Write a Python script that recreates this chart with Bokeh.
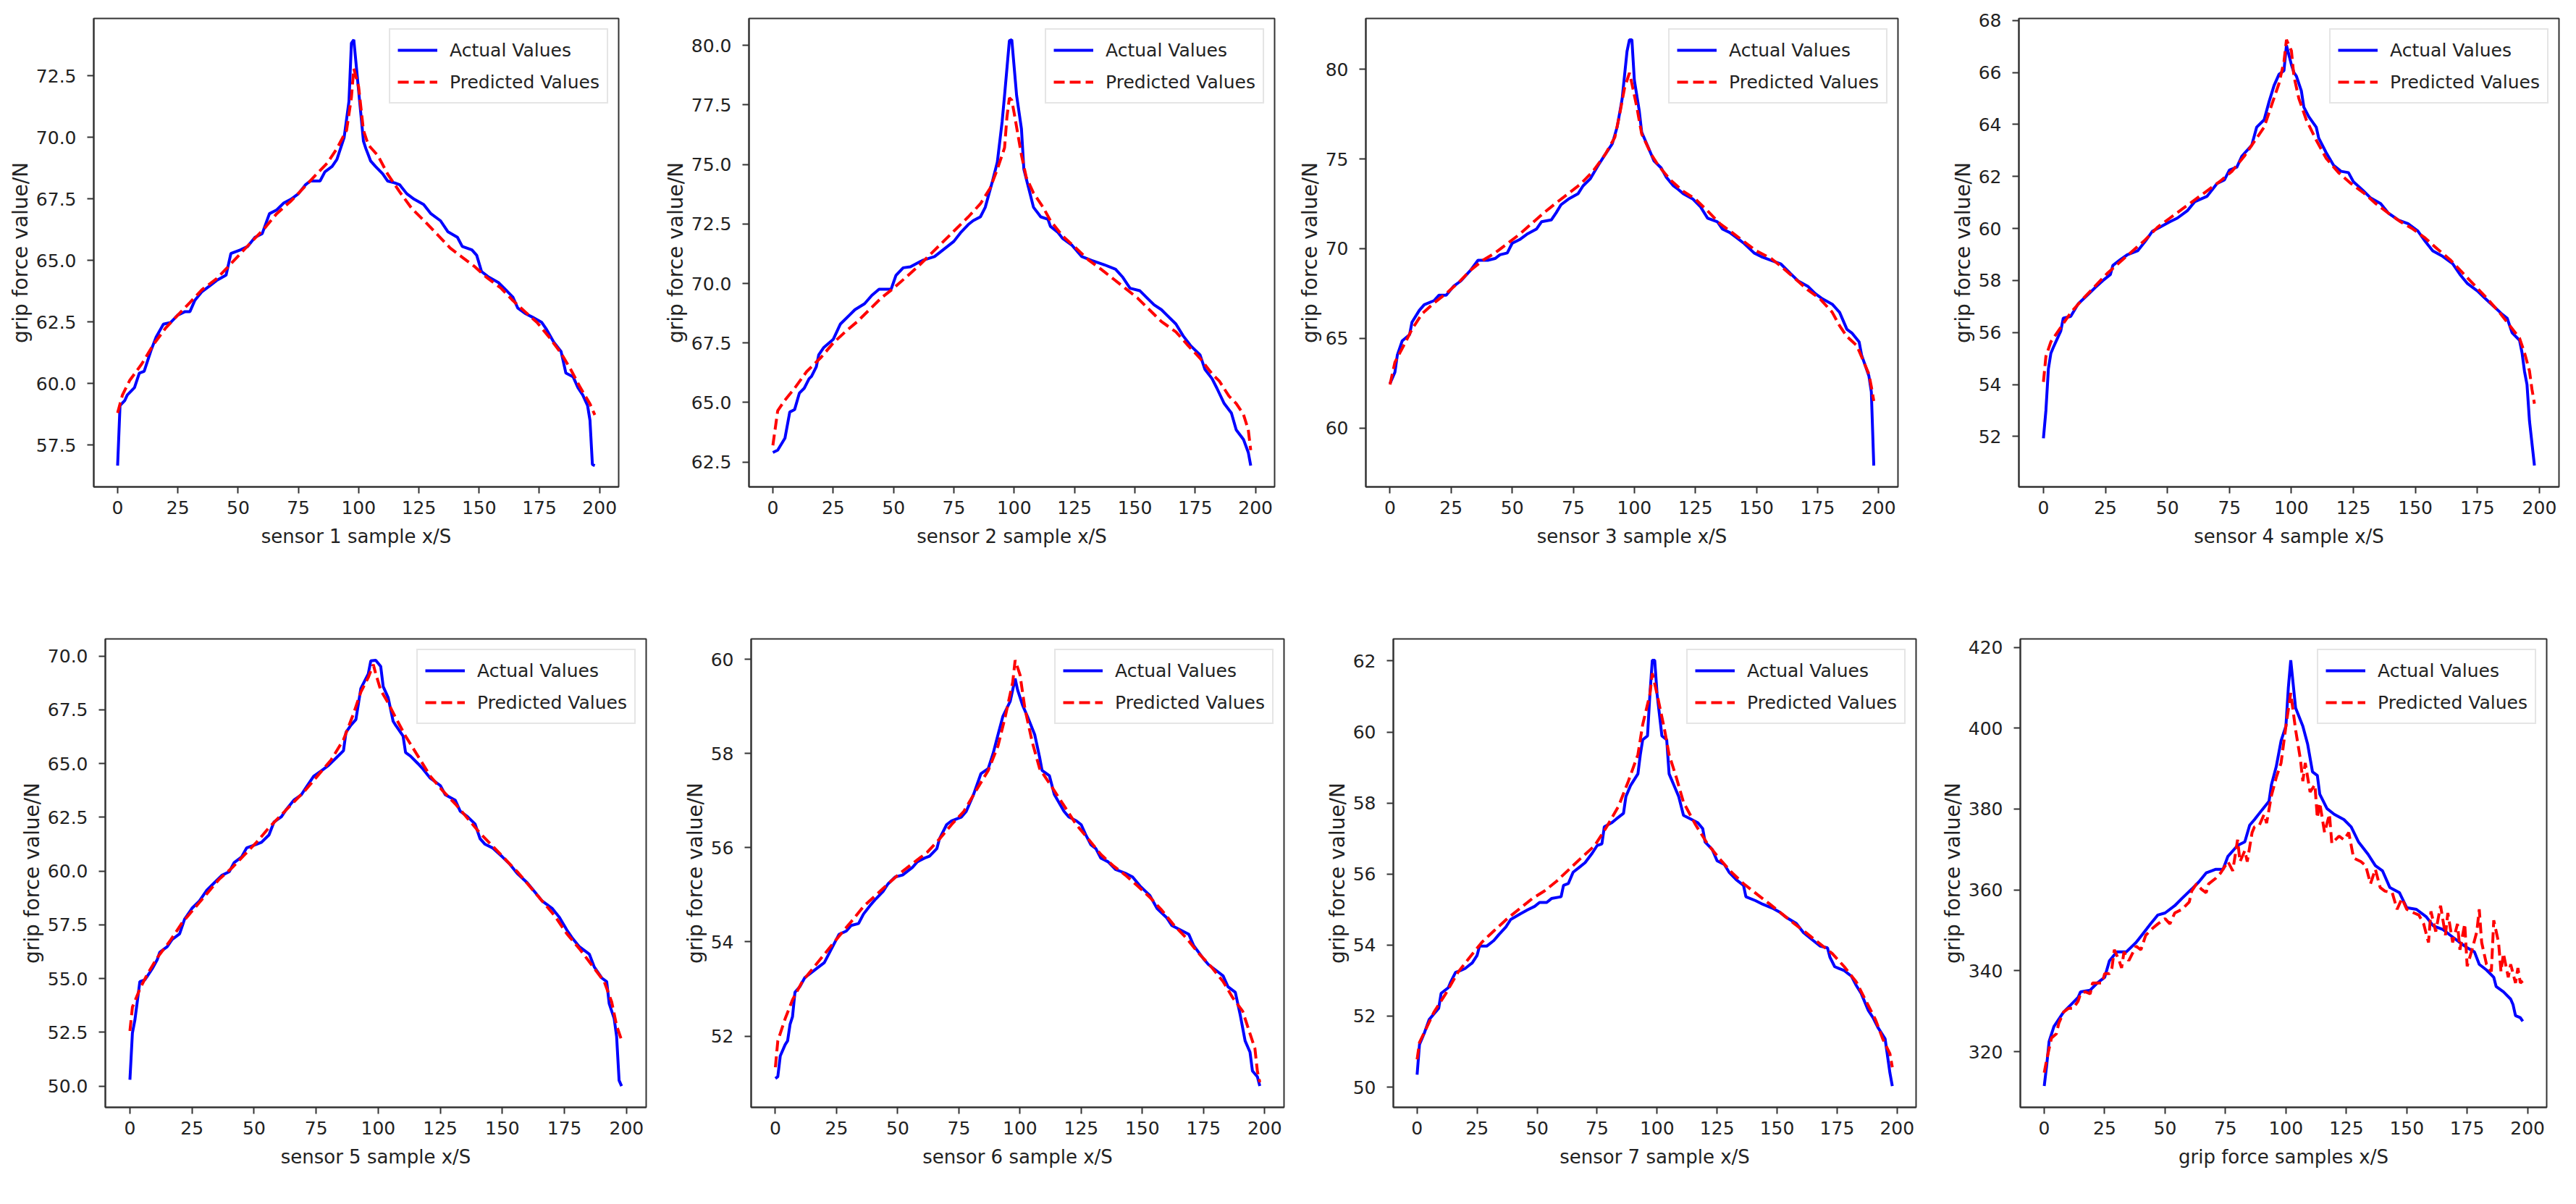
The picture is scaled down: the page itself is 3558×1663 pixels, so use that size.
from bokeh.plotting import figure
from bokeh.layouts import row, column
from bokeh.models import Range1d, FixedTicker, PrintfTickFormatter
from bokeh.embed import file_html
from bokeh.resources import INLINE

# ---------------- data ----------------
x_ticks = [0, 25, 50, 75, 100, 125, 150, 175, 200]
legend_actual = "Actual Values"
legend_pred = "Predicted Values"
x_labels = ["sensor 1 sample x/S", "sensor 2 sample x/S", "sensor 3 sample x/S", "sensor 4 sample x/S",
            "sensor 5 sample x/S", "sensor 6 sample x/S", "sensor 7 sample x/S", "grip force samples x/S"]
y_label = "grip force value/N"

s1_act_x = [0,1,3,4,7,9,11,14,16,19,22,25,28,30,32,35,38,41,45,47,51,54,57,60,63,66,69,72,75,78,80,84,86,89,91,94,96,97,98,100,102,103,105,107,110,112,115,117,120,123,127,130,134,137,141,143,147,149,151,154,158,161,164,166,169,172,176,178,181,184,186,189,191,193,195,196,197,198]
s1_act_y = [56.66,59.1,59.31,59.53,59.83,60.42,60.49,61.38,61.89,62.41,62.48,62.78,62.92,62.92,63.37,63.73,63.95,64.18,64.4,65.28,65.43,65.57,65.94,66.09,66.9,67.05,67.34,67.49,67.71,68.08,68.23,68.23,68.6,68.82,69.11,70.0,71.47,73.83,73.97,71.9,69.85,69.55,69.04,68.82,68.52,68.23,68.15,68.08,67.71,67.49,67.27,66.9,66.61,66.17,65.94,65.57,65.43,65.21,64.55,64.32,64.1,63.81,63.51,63.07,62.85,62.7,62.48,62.19,61.67,61.3,60.42,60.27,59.83,59.53,59.1,58.5,56.7,56.66]
s1_pre_x = [0,2,5,10,15,20,25,30,35,41,46,51,56,61,66,72,77,82,87,91,95,97,98,100,102,104,108,112,117,122,128,133,138,143,148,153,159,164,169,174,179,184,188,192,196,198]
s1_pre_y = [58.8,59.53,60.12,60.79,61.6,62.26,62.78,63.29,63.81,64.25,64.76,65.28,65.8,66.31,66.9,67.42,67.93,68.45,68.96,69.55,70.29,71.62,72.8,72.06,70.29,69.7,69.26,68.52,67.79,67.12,66.53,66.02,65.5,65.13,64.76,64.32,63.88,63.37,62.92,62.48,61.89,61.23,60.57,59.83,59.17,58.72]

s2_act_x = [0,2,5,7,9,11,13,15,16,18,19,21,25,28,32,34,38,41,44,49,51,54,57,62,67,71,75,78,81,83,86,88,91,93,95,96,98,99,101,103,104,106,108,111,114,115,118,120,124,128,132,137,142,145,148,152,155,158,161,163,167,170,173,177,179,182,184,187,190,192,195,197,198]
s2_act_y = [62.9,63.0,63.5,64.6,64.7,65.4,65.6,66.0,66.1,66.5,67.0,67.3,67.65,68.3,68.7,68.9,69.15,69.5,69.76,69.76,70.34,70.66,70.7,70.97,71.13,71.45,71.77,72.16,72.48,72.64,72.8,73.2,74.3,75.1,76.8,77.9,80.2,80.24,77.9,76.5,74.8,74.0,73.2,72.8,72.7,72.4,72.16,71.9,71.6,71.13,70.97,70.8,70.6,70.26,69.8,69.7,69.4,69.1,68.9,68.7,68.3,67.8,67.4,67.0,66.4,66.0,65.6,64.96,64.56,63.85,63.45,62.9,62.35]
s2_pre_x = [0,2,5,9,14,20,25,30,35,40,45,50,56,61,66,71,76,81,86,90,93,96,97,98,99,100,103,105,108,112,115,120,126,131,136,141,146,151,156,161,167,172,177,182,185,189,192,195,197,198]
s2_pre_y = [63.2,64.65,65.1,65.6,66.3,66.9,67.5,67.97,68.4,68.9,69.4,69.8,70.34,70.8,71.3,71.8,72.3,72.8,73.35,74.0,74.8,75.7,77.0,77.8,77.7,77.15,75.4,74.46,73.8,73.2,72.64,72.0,71.45,70.97,70.6,70.2,69.8,69.4,68.9,68.4,67.97,67.4,66.86,66.2,65.9,65.27,64.96,64.5,63.85,63.0]

s3_act_x = [0,2,3,5,8,9,12,14,18,20,23,26,29,33,36,40,43,45,48,50,53,56,60,62,66,68,70,73,77,79,82,85,88,91,93,95,97,98,99,100,102,103,106,108,111,113,116,118,120,124,127,130,134,136,139,142,145,149,152,156,160,164,167,171,174,177,181,184,187,189,192,193,196,197,198]
s3_act_y = [62.48,63.1,64.07,64.86,65.2,65.9,66.56,66.87,67.1,67.4,67.4,67.9,68.2,68.8,69.35,69.35,69.45,69.66,69.76,70.3,70.5,70.8,71.1,71.5,71.6,72.0,72.45,72.76,73.07,73.5,73.9,74.6,75.24,75.86,76.8,78.35,81.0,81.65,81.65,79.4,77.7,76.5,75.55,74.9,74.5,74.0,73.5,73.3,73.07,72.76,72.35,71.7,71.5,71.1,70.9,70.6,70.28,69.76,69.55,69.35,69.14,68.6,68.2,67.9,67.5,67.2,66.9,66.45,65.5,65.3,64.8,64.07,62.9,62.0,57.9]
s3_pre_x = [0,2,6,9,13,18,23,28,33,38,43,48,53,58,63,68,73,78,83,88,92,94,96,98,99,101,103,107,110,115,120,125,130,135,140,145,150,156,161,166,171,176,181,184,187,191,193,196,197,198]
s3_pre_y = [62.42,63.66,64.7,65.5,66.35,66.97,67.5,68.1,68.8,69.35,69.76,70.28,70.8,71.4,72.0,72.55,73.07,73.6,74.3,75.24,76.2,77.5,78.97,79.8,79.2,77.9,76.4,75.24,74.6,73.8,73.2,72.76,72.1,71.4,70.9,70.38,69.87,69.45,68.9,68.3,67.7,67.2,66.45,65.7,65.1,64.6,63.97,63.0,62.3,61.5]

s4_act_x = [0,1,2,3,4,6,7,8,11,14,18,21,24,27,28,31,34,38,41,44,47,51,54,58,61,66,70,73,75,78,80,84,86,89,91,93,95,97,98,100,101,102,104,105,107,110,111,114,117,120,123,125,129,132,136,139,143,147,151,154,157,161,165,168,171,175,178,182,185,187,189,192,193,194,195,196,198]
s4_act_y = [51.93,53.0,54.6,55.2,55.43,55.85,56.06,56.55,56.62,57.1,57.46,57.74,58.0,58.23,58.58,58.8,59.0,59.14,59.5,59.9,60.05,60.26,60.4,60.68,61.03,61.24,61.73,61.87,62.25,62.36,62.78,63.2,63.9,64.18,64.88,65.5,65.93,66.07,67.05,66.3,66.0,65.86,65.3,64.67,64.3,63.9,63.48,62.92,62.43,62.2,62.15,61.8,61.45,61.17,60.96,60.6,60.33,60.19,59.9,59.5,59.14,58.93,58.65,58.23,57.88,57.6,57.32,56.97,56.7,56.55,55.99,55.7,55.22,54.5,54.0,52.6,50.88]
s4_pre_x = [0,1,3,7,11,16,21,26,31,36,41,46,51,56,61,66,71,76,81,85,89,92,95,97,98,100,101,103,106,110,114,119,124,129,134,139,144,149,154,159,164,169,174,179,184,188,192,194,196,197,198]
s4_pre_y = [54.1,55.08,55.64,56.2,56.76,57.3,57.8,58.3,58.72,59.14,59.56,60.05,60.4,60.75,61.1,61.45,61.8,62.2,62.78,63.34,63.9,64.74,65.58,66.42,67.26,66.84,65.86,65.0,64.18,63.4,62.7,62.15,61.73,61.38,60.96,60.6,60.26,59.98,59.63,59.2,58.8,58.3,57.8,57.3,56.76,56.27,55.78,55.22,54.52,53.82,53.26]

s5_act_x = [0,1,2,4,6,7,9,11,12,15,17,20,22,25,28,31,34,37,40,42,45,47,51,53,56,58,61,63,66,69,71,74,77,80,83,86,87,89,91,93,96,97,99,101,102,104,106,107,110,111,113,116,118,121,125,127,131,133,136,139,141,143,146,150,153,156,160,163,166,170,173,176,178,181,185,187,190,192,193,195,196,197,198]
s5_act_y = [50.29,52.47,53.07,54.86,54.94,55.11,55.46,55.88,56.22,56.48,56.82,57.08,57.76,58.27,58.61,59.12,59.46,59.8,59.97,60.4,60.66,61.08,61.25,61.34,61.68,62.28,62.53,62.87,63.3,63.55,63.9,64.41,64.66,64.92,65.26,65.6,66.45,66.79,67.05,68.5,69.18,69.78,69.81,69.52,68.58,68.07,66.97,66.79,66.28,65.52,65.35,65.0,64.75,64.32,63.98,63.55,63.3,62.79,62.53,62.19,61.51,61.25,61.08,60.66,60.32,59.89,59.46,59.04,58.61,58.27,57.84,57.25,56.91,56.48,56.14,55.54,55.03,54.86,53.84,53.15,52.3,50.26,50.0]
s5_pre_x = [0,1,4,7,11,16,21,26,31,36,41,46,51,56,61,66,71,76,81,86,90,93,96,98,99,101,104,107,111,116,121,126,131,136,141,146,151,156,161,166,171,176,181,186,191,194,196,198]
s5_pre_y = [52.56,53.67,54.52,55.2,55.97,56.73,57.59,58.27,58.95,59.63,60.14,60.74,61.34,62.02,62.62,63.21,63.81,64.49,65.17,66.11,67.31,68.33,69.01,69.61,69.18,68.41,67.82,67.14,66.28,65.35,64.41,63.73,63.13,62.45,61.76,61.17,60.57,59.97,59.29,58.61,57.93,57.08,56.39,55.63,54.86,53.92,52.81,52.13]

s6_act_x = [0,1,2,4,5,6,7,8,10,12,15,17,20,22,24,26,29,31,34,36,39,41,44,46,49,52,56,58,61,63,66,67,70,72,76,78,81,84,87,89,91,93,96,98,99,101,103,106,108,109,112,114,118,120,123,125,127,129,131,133,136,139,143,146,149,153,156,160,162,165,169,171,175,177,180,183,185,188,190,192,194,195,197,198]
s6_act_y = [51.1,51.14,51.58,51.82,51.9,52.25,52.41,52.93,53.05,53.24,53.36,53.44,53.56,53.76,53.96,54.16,54.23,54.35,54.39,54.59,54.79,54.91,55.07,55.23,55.38,55.42,55.58,55.7,55.78,55.82,55.98,56.18,56.49,56.57,56.65,56.77,57.13,57.57,57.68,58.0,58.4,58.79,59.11,59.59,59.35,59.03,58.79,58.4,57.92,57.64,57.53,57.13,56.77,56.65,56.57,56.49,56.26,56.06,55.98,55.78,55.7,55.54,55.46,55.38,55.19,54.99,54.71,54.51,54.35,54.27,54.16,53.92,53.64,53.52,53.4,53.28,53.05,52.93,52.45,51.9,51.66,51.26,51.14,50.94]
s6_pre_x = [0,1,4,7,11,16,21,26,31,36,41,46,51,56,62,67,72,77,82,87,91,94,97,98,100,102,105,108,113,118,123,128,133,138,143,148,153,158,163,168,173,178,183,187,191,193,196,197,198]
s6_pre_y = [51.34,51.9,52.37,52.77,53.16,53.48,53.8,54.12,54.43,54.75,54.99,55.23,55.46,55.66,55.9,56.18,56.49,56.77,57.21,57.64,58.16,58.79,59.51,59.98,59.67,58.95,58.24,57.68,57.29,56.89,56.49,56.18,55.86,55.62,55.42,55.19,54.95,54.67,54.35,54.08,53.76,53.48,53.16,52.81,52.53,52.21,51.74,51.26,51.02]

s7_act_x = [0,1,3,5,7,9,10,13,14,16,18,20,23,25,26,29,32,34,37,39,43,46,49,51,54,56,60,61,63,65,68,70,73,75,77,78,81,83,86,87,89,92,93,94,96,97,98,99,100,102,104,105,107,109,111,114,117,119,120,123,125,128,130,133,136,137,141,144,148,151,154,158,161,165,168,171,172,174,178,181,183,185,188,190,192,195,197,198]
s7_act_y = [50.35,51.2,51.52,51.9,52.06,52.22,52.64,52.8,52.96,53.23,53.28,53.34,53.5,53.71,53.97,53.97,54.13,54.29,54.51,54.72,54.88,54.99,55.09,55.2,55.2,55.31,55.36,55.68,55.73,56.05,56.21,56.32,56.59,56.8,56.85,57.33,57.44,57.55,57.71,58.18,58.5,58.82,59.36,59.78,59.89,61.06,62.02,62.02,61.06,59.89,59.78,58.82,58.5,58.18,57.65,57.55,57.44,57.28,56.9,56.69,56.37,56.27,56.05,55.84,55.68,55.36,55.25,55.15,55.04,54.93,54.77,54.61,54.35,54.13,53.97,53.92,53.66,53.39,53.28,53.12,52.86,52.64,52.16,51.95,51.68,51.36,50.4,50.03]
s7_pre_x = [0,1,4,7,12,17,22,27,32,38,43,48,53,58,63,68,74,79,84,88,92,94,97,98,100,103,105,108,111,116,121,126,131,136,142,147,152,157,162,167,173,178,183,187,191,194,197,198]
s7_pre_y = [50.78,51.26,51.68,52.11,52.64,53.23,53.66,54.08,54.4,54.77,55.04,55.31,55.52,55.79,56.11,56.43,56.8,57.33,57.92,58.61,59.36,60.21,61.06,61.65,61.06,60.1,59.36,58.72,58.02,57.39,56.85,56.43,56.05,55.73,55.41,55.15,54.88,54.61,54.35,54.08,53.76,53.39,52.96,52.43,51.9,51.36,50.94,50.56]

s8_act_x = [0,1,2,4,6,8,11,14,15,19,22,25,27,30,34,38,41,44,47,50,54,57,61,64,67,71,74,76,80,83,85,87,90,93,94,96,98,100,101,102,104,107,109,111,113,114,117,120,124,127,130,134,137,140,143,147,150,154,158,161,165,168,172,175,178,180,183,186,187,190,193,194,195,197,198]
s8_act_y = [311.5,316.6,322.5,326.2,328,329.8,331.6,333.4,334.8,335.2,337.0,338.4,342.5,344.7,344.7,347,349.3,351.6,353.8,354.3,356.1,357.9,360.2,362,364.2,365.1,365.1,368.3,371,371.9,376,377.4,379.7,381.9,386,390.5,396.9,400.5,410,416.8,405,400.5,396,389.2,388.3,383.7,380.1,378.7,377.4,375.6,371.9,368.8,366,364.7,360.6,359.3,355.6,355.2,353.4,351.1,350.2,348.8,347,345.7,344.7,341.6,340.2,338.4,336.1,334.8,333,331.6,328.9,328.4,327.5]
s8_pre_x = [0,1,3,5,6,8,10,12,14,15,17,19,20,22,24,25,27,28,29,31,32,33,35,38,40,42,45,47,50,52,54,57,60,61,63,65,67,68,71,73,76,78,80,81,83,84,86,87,89,91,92,94,96,98,100,102,104,106,107,108,110,112,113,114,116,118,119,122,124,126,128,131,133,135,137,139,141,144,146,148,150,153,155,157,159,160,162,164,166,167,169,171,172,174,175,177,179,180,181,183,185,186,188,189,190,192,193,195,196,197,198]
s8_pre_y = [314.8,318,323.4,324.4,327,329.8,330.7,330.7,332.5,334.3,334.8,334.3,337,337,337,339.3,339.3,340.7,345.2,342.5,340.7,344.7,342.5,346.1,345.2,348.8,350.6,351.6,352.9,351.6,354.3,355.2,357,359.7,361.5,360.2,359.3,361.5,362.9,364.2,367,364.7,372.4,367,369.7,367,374.2,375.6,376,378.7,376.5,383.3,387.8,391.4,400.5,408.7,399.6,392.3,386.9,391.4,384.2,386,377.8,381.5,374.2,378.7,371.5,373.3,372.4,374.2,367.9,367,366,361.5,365.1,360.6,359.7,359.3,355.2,357.9,355.2,354.3,353.8,351.6,347,354.7,349.7,356.1,348.8,354.3,347,351.6,345.2,351.6,341.1,345.2,349.7,355.2,347,341.6,339.8,352.5,347,339.8,344.3,338.4,341.6,337,340.7,337,337.5]

y_ticks = [
    [57.5, 60.0, 62.5, 65.0, 67.5, 70.0, 72.5],
    [62.5, 65.0, 67.5, 70.0, 72.5, 75.0, 77.5, 80.0],
    [60, 65, 70, 75, 80],
    [52, 54, 56, 58, 60, 62, 64, 66, 68],
    [50.0, 52.5, 55.0, 57.5, 60.0, 62.5, 65.0, 67.5, 70.0],
    [52, 54, 56, 58, 60],
    [50, 52, 54, 56, 58, 60, 62],
    [320, 340, 360, 380, 400, 420],
]
y_fmt = ["%.1f", "%.1f", "%d", "%d", "%.1f", "%d", "%d", "%d"]

series = [
    (s1_act_x, s1_act_y, s1_pre_x, s1_pre_y),
    (s2_act_x, s2_act_y, s2_pre_x, s2_pre_y),
    (s3_act_x, s3_act_y, s3_pre_x, s3_pre_y),
    (s4_act_x, s4_act_y, s4_pre_x, s4_pre_y),
    (s5_act_x, s5_act_y, s5_pre_x, s5_pre_y),
    (s6_act_x, s6_act_y, s6_pre_x, s6_pre_y),
    (s7_act_x, s7_act_y, s7_pre_x, s7_pre_y),
    (s8_act_x, s8_act_y, s8_pre_x, s8_pre_y),
]

# ---------------- layout (pixel geometry of each panel) ----------------
# width, height, border left, right, top, bottom
geom = [
    (892, 822, 129, 38, 25, 138),
    (885, 822, 142, 17, 12, 150),
    (875, 822, 109, 31, 15, 137),
    (890, 822, 136, 8, 16, 126),
    (917, 825, 145, 25, 31, 117),
    (875, 825, 120, 19, 60, 97),
    (880, 825, 132, 26, 50, 118),
    (870, 825, 118, 25, 49, 115),
]

FONT = "DejaVu Sans"
TXT = "#222222"


def make_panel(i):
    ax, ay, px, py = series[i]
    w, h, bl, br, bt, bb = geom[i]
    allv = ay + py
    lo, hi = min(allv), max(allv)
    pad = (hi - lo) * 0.05
    xlo, xhi = min(ax + px), max(ax + px)
    xpad = (xhi - xlo) * 0.05
    p = figure(width=w, height=h, output_backend="svg", toolbar_location=None,
               x_range=Range1d(xlo - xpad, xhi + xpad), y_range=Range1d(lo - pad, hi + pad),
               min_border_left=bl, min_border_right=br, min_border_top=bt, min_border_bottom=bb)
    p.background_fill_color = "white"
    p.border_fill_color = "white"
    p.grid.visible = False
    p.outline_line_color = "#333333"
    p.outline_line_width = 2

    p.line(ax, ay, line_color="#0000ff", line_width=4, legend_label=legend_actual)
    p.line(px, py, line_color="#ff0000", line_width=4, line_dash="15 7", legend_label=legend_pred)

    p.xaxis.ticker = FixedTicker(ticks=x_ticks)
    p.yaxis.ticker = FixedTicker(ticks=y_ticks[i])
    p.yaxis.formatter = PrintfTickFormatter(format=y_fmt[i])
    p.xaxis.axis_label = x_labels[i]
    p.yaxis.axis_label = y_label
    for a in (p.xaxis[0], p.yaxis[0]):
        a.axis_line_color = "#333333"
        a.axis_line_width = 2
        a.major_tick_line_color = "#333333"
        a.major_tick_line_width = 2
        a.major_tick_out = 9
        a.major_tick_in = 0
        a.minor_tick_out = 0
        a.minor_tick_in = 0
        a.major_label_text_font = FONT
        a.major_label_text_font_size = "25px"
        a.major_label_text_color = TXT
        a.axis_label_text_font = FONT
        a.axis_label_text_font_style = "normal"
        a.axis_label_text_color = TXT
    p.xaxis.axis_label_text_font_size = "26px"
    p.yaxis.axis_label_text_font_size = "28px"
    p.xaxis.major_label_standoff = 10
    p.xaxis.axis_label_standoff = 13
    p.yaxis.major_label_standoff = 15
    p.yaxis.axis_label_standoff = 2

    lg = p.legend[0]
    lg.location = "top_right"
    lg.margin = 14
    lg.padding = 10
    lg.spacing = 8
    lg.glyph_width = 55
    lg.glyph_height = 36
    lg.label_height = 36
    lg.label_standoff = 17
    lg.label_text_font = FONT
    lg.label_text_font_size = "25px"
    lg.label_text_color = TXT
    lg.border_line_color = "#cccccc"
    lg.border_line_width = 2
    lg.background_fill_alpha = 0.8
    return p


panels = [make_panel(i) for i in range(8)]
layout = column(row(*panels[:4]), row(*panels[4:]))

open("out.html", "w").write(file_html(layout, INLINE))
